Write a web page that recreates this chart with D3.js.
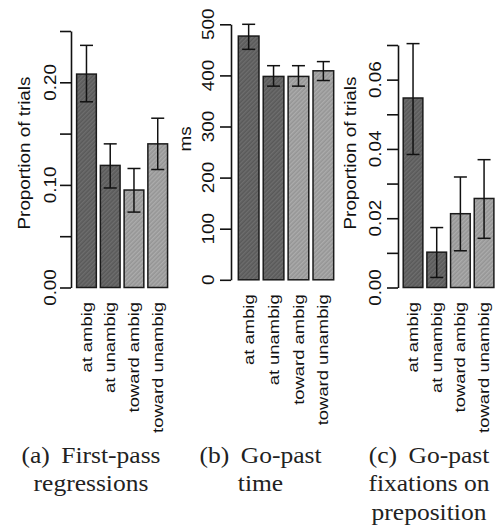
<!DOCTYPE html>
<html>
<head>
<meta charset="utf-8">
<script src="https://cdn.jsdelivr.net/npm/d3@7"></script>
<style>
  body { margin: 0; background: #fff; }
  svg { display: block; }
  .sans { font-family: "Liberation Sans", Arimo, Helvetica, Arial, sans-serif; }
  .serif { font-family: "Liberation Serif", "Times New Roman", Times, serif; }
</style>
</head>
<body>
<script>
const categories = ["at ambig", "at unambig", "toward ambig", "toward unambig"];
const shades = ["dark", "dark", "light", "light"];

// (a) first-pass regressions
const regrMean = [0.208, 0.119, 0.095, 0.140];
const regrLow = [0.181, 0.097, 0.0735, 0.115];
const regrHigh = [0.236, 0.140, 0.116, 0.165];
const regrTicks = [0, 0.05, 0.10, 0.15, 0.20, 0.25];
const regrTickLabels = [0, 0.10, 0.20];

// (b) go-past time
const timeMean = [477, 398, 398, 409];
const timeLow = [451, 379, 379, 390];
const timeHigh = [500, 419, 419, 427];
const timeTicks = [0, 100, 200, 300, 400, 500];
const timeTickLabels = [0, 100, 200, 300, 400, 500];

// (c) go-past fixations on preposition
const fixMean = [0.0547, 0.0102, 0.0213, 0.0257];
const fixLow = [0.0384, 0.0029, 0.0106, 0.0142];
const fixHigh = [0.0704, 0.0173, 0.0319, 0.0369];
const fixTicks = [0, 0.01, 0.02, 0.03, 0.04, 0.05, 0.06, 0.07];
const fixTickLabels = [0, 0.02, 0.04, 0.06];

const width = 498, height = 527;

const svg = d3.select("body").append("svg")
    .attr("width", width)
    .attr("height", height);

svg.append("rect").attr("width", width).attr("height", height).attr("fill", "#fff");

// hatched fills, like R's density shading
const defs = svg.append("defs");
const fills = {dark: ["#595959", "#6e6e6e"], light: ["#959595", "#acacac"]};
Object.keys(fills).forEach(function (k) {
    const p = defs.append("pattern")
        .attr("id", "hatch-" + k)
        .attr("patternUnits", "userSpaceOnUse")
        .attr("width", 3).attr("height", 3)
        .attr("patternTransform", "rotate(45)");
    p.append("rect").attr("width", 3).attr("height", 3).attr("fill", fills[k][0]);
    p.append("rect").attr("width", 1.4).attr("height", 3).attr("fill", fills[k][1]);
});

const panels = [
    {mean: regrMean, low: regrLow, high: regrHigh, ticks: regrTicks, labels: regrTickLabels,
        fmt: d3.format(".2f"), max: 0.25, axisX: 71, bottom: 287.5, top: 31,
        band: [74.6, 169.6], tickLabelX: 50, title: "Proportion of trials", titleX: 24, titleY: 153,
        caption: ["(a)", "First-pass", "regressions"], capX: 91},
    {mean: timeMean, low: timeLow, high: timeHigh, ticks: timeTicks, labels: timeTickLabels,
        fmt: d3.format("d"), max: 500, axisX: 231, bottom: 279.8, top: 24.3,
        band: [236.2, 335.8], tickLabelX: 208, title: "ms", titleX: 185, titleY: 139,
        caption: ["(b)", "Go-past", "time"], capX: 260.5},
    {mean: fixMean, low: fixLow, high: fixHigh, ticks: fixTicks, labels: fixTickLabels,
        fmt: d3.format(".2f"), max: 0.07, axisX: 398, bottom: 287.5, top: 45,
        band: [401.2, 495.9], tickLabelX: 375, title: "Proportion of trials", titleX: 350.5, titleY: 153,
        caption: ["(c)", "Go-past", "fixations on", "preposition"], capX: 429}
];

panels.forEach(function (p) {
    const g = svg.append("g");

    const y = d3.scaleLinear().domain([0, p.max]).range([p.bottom, p.top]);
    const x = d3.scaleBand().domain(categories).range(p.band)
        .paddingInner(0.17).paddingOuter(0.085);

    // axis
    const ax = g.append("g")
        .attr("transform", "translate(" + p.axisX + ",0)")
        .call(d3.axisLeft(y).tickValues(p.ticks).tickSize(11).tickSizeOuter(0).tickFormat(""));
    ax.selectAll("path, line").attr("stroke", "#111").attr("stroke-width", 1.6);

    g.selectAll(".ylab")
        .data(p.labels)
        .enter().append("text")
        .attr("class", "sans")
        .attr("transform", d => "translate(" + p.tickLabelX + "," + y(d) + ") rotate(-90) scale(1.18,1)")
        .attr("dy", "0.35em")
        .attr("text-anchor", "middle")
        .attr("font-size", 16)
        .attr("fill", "#111")
        .text(p.fmt);

    g.append("text")
        .attr("class", "sans")
        .attr("transform", "translate(" + p.titleX + "," + p.titleY + ") rotate(-90) scale(1.11,1)")
        .attr("dy", "0.35em")
        .attr("text-anchor", "middle")
        .attr("font-size", 17)
        .attr("fill", "#111")
        .text(p.title);

    // bars
    g.selectAll(".bar")
        .data(categories)
        .enter().append("rect")
        .attr("x", d => x(d))
        .attr("y", (d, i) => y(p.mean[i]))
        .attr("width", x.bandwidth())
        .attr("height", (d, i) => y(0) - y(p.mean[i]))
        .attr("fill", (d, i) => "url(#hatch-" + shades[i] + ")")
        .attr("stroke", "#1a1a1a")
        .attr("stroke-width", 1.5);

    // error bars
    const cap = 6.5;
    const err = g.selectAll(".err")
        .data(categories)
        .enter().append("g")
        .attr("stroke", "#111")
        .attr("stroke-width", 1.5);
    err.append("line")
        .attr("x1", d => x(d) + x.bandwidth() / 2)
        .attr("x2", d => x(d) + x.bandwidth() / 2)
        .attr("y1", (d, i) => y(p.low[i]))
        .attr("y2", (d, i) => y(p.high[i]));
    err.append("line")
        .attr("x1", d => x(d) + x.bandwidth() / 2 - cap)
        .attr("x2", d => x(d) + x.bandwidth() / 2 + cap)
        .attr("y1", (d, i) => y(p.low[i]))
        .attr("y2", (d, i) => y(p.low[i]));
    err.append("line")
        .attr("x1", d => x(d) + x.bandwidth() / 2 - cap)
        .attr("x2", d => x(d) + x.bandwidth() / 2 + cap)
        .attr("y1", (d, i) => y(p.high[i]))
        .attr("y2", (d, i) => y(p.high[i]));

    // category labels
    g.selectAll(".xlab")
        .data(categories)
        .enter().append("text")
        .attr("class", "sans")
        .attr("transform", d => "translate(" + (x(d) + x.bandwidth() / 2) + "," + (p.bottom + 14.5) + ") rotate(-90) scale(1.27,1)")
        .attr("dy", "0.35em")
        .attr("text-anchor", "end")
        .attr("font-size", 14.5)
        .attr("fill", "#111")
        .text(d => d);

    // caption
    const lines = [[p.caption[0], p.caption[1]]].concat(p.caption.slice(2).map(s => [null, s]));
    lines.forEach(function (ln, i) {
        const t = g.append("text")
            .attr("class", "serif")
            .attr("transform", "translate(" + p.capX + "," + (462.5 + i * 28.5) + ") scale(1.11,1)")
            .attr("text-anchor", "middle")
            .attr("font-size", 23)
            .attr("fill", "#222");
        if (ln[0]) {
            t.append("tspan").text(ln[0]);
            t.append("tspan").attr("dx", "0.45em").text(ln[1]);
        } else {
            t.text(ln[1]);
        }
    });
});
</script>
</body>
</html>
